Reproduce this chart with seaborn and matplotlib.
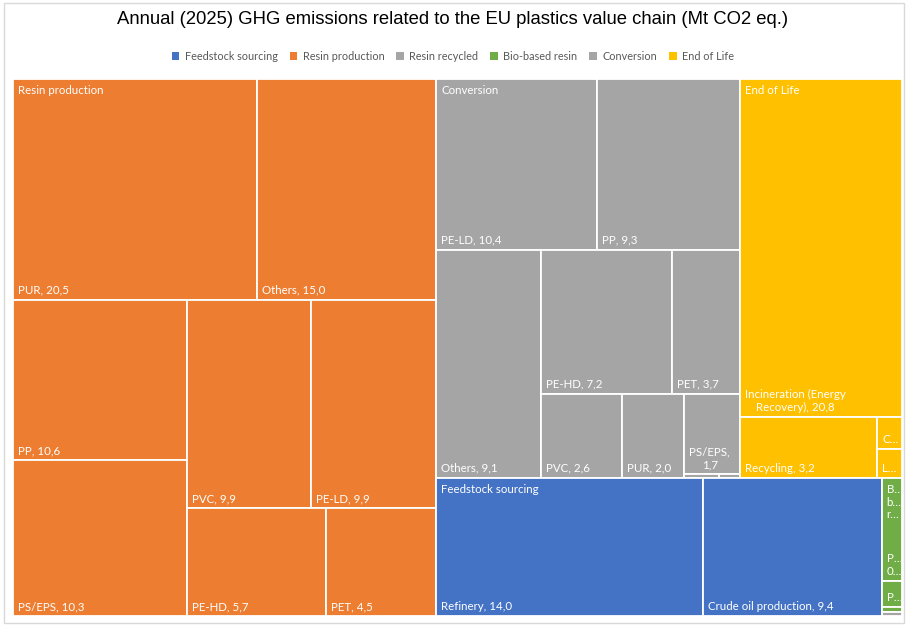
import re
import matplotlib
matplotlib.use('Agg')
import matplotlib.pyplot as plt
from matplotlib.patches import Rectangle, Patch
import seaborn as sns

# Data (Mt CO2 eq.)
resin_names = ['PUR', 'Others', 'PP', 'PS/EPS', 'PVC', 'PE-LD', 'PE-HD', 'PET']
resin_values = [20.5, 15.0, 10.6, 10.3, 9.9, 9.9, 5.7, 4.5]

conv_names = ['PE-LD', 'PP', 'Others', 'PE-HD', 'PET', 'PVC', 'PUR', 'PS/EPS', 'Bio-PE', 'PLA']
conv_values = [10.4, 9.3, 9.1, 7.2, 3.7, 2.6, 2.0, 1.7, 0.05, 0.03]

eol_names = ['Incineration (Energy Recovery)', 'Recycling', 'Chemical recycling', 'Landfill']
eol_values = [20.8, 3.2, 0.31, 0.27]

feed_names = ['Refinery', 'Crude oil production']
feed_values = [14.0, 9.4]

bio_names = ['PLA', 'PBS', 'PHA']
bio_values = [0.8, 0.2, 0.04]

recyc_names = ['Recycled resin']
recyc_values = [0.03]

legend_order = ['Feedstock sourcing', 'Resin production', 'Resin recycled',
                'Bio-based resin', 'Conversion', 'End of Life']

# Group order as drawn (largest first) and strip grouping of the layout
groups = [
    ('Resin production', resin_names, resin_values, [2, 2, 2, 1, 1]),
    ('Conversion', conv_names, conv_values, [2, 1, 2, 1, 1, 1, 1, 1]),
    ('End of Life', eol_names, eol_values, [1, 1, 1, 1]),
    ('Feedstock sourcing', feed_names, feed_values, [1, 1]),
    ('Bio-based resin', bio_names, bio_values, [1, 1, 1]),
    ('Resin recycled', recyc_names, recyc_values, [1]),
]
top_strips = [1, 2, 1, 1, 1]

colors = {'Feedstock sourcing': '#4472C4', 'Resin production': '#ED7D31',
          'Resin recycled': '#A5A5A5', 'Bio-based resin': '#70AD47',
          'Conversion': '#A5A5A5', 'End of Life': '#FFC000'}


def strip_layout(values, strips, x, y, w, h):
    # strips are laid along the shorter side of the space that is left
    rects = []
    i = 0
    for n in strips:
        chunk = values[i:i + n]
        rest = sum(values[i:])
        s = sum(chunk)
        if w >= h:
            cw = w * s / rest
            yy = y
            for v in chunk:
                ch = h * v / s
                rects.append((x, yy, cw, ch))
                yy += ch
            x += cw
            w -= cw
        else:
            rh = h * s / rest
            xx = x
            for v in chunk:
                cw2 = w * v / s
                rects.append((xx, y, cw2, rh))
                xx += cw2
            y += rh
            h -= rh
        i += n
    return rects


sns.set_theme(style='white')
plt.rcParams['font.family'] = ['Lato', 'DejaVu Sans']
LABEL_SIZE = 8.3

fig = plt.figure(figsize=(9.06, 6.25), dpi=100)
renderer = fig.canvas.get_renderer()

W, H = 889, 537
ax = fig.add_axes([13 / 906, 1 - 616 / 625, W / 906, H / 625])
ax.set_xlim(0, W)
ax.set_ylim(H, 0)
ax.axis('off')


def text_px(s):
    t = fig.text(0, 0, s, fontsize=LABEL_SIZE)
    w = t.get_window_extent(renderer=renderer).width
    t.remove()
    return w


LINE_H = LABEL_SIZE * 1.2 * 100 / 72


def fit_lines(text, avail):
    tokens = [(m.group(2), bool(m.group(1))) for m in re.finditer(r'(\s*)([^\s-]+-?)', text)]
    lines = []
    line = ''
    for tok, sp in tokens:
        cand = tok if not line else line + (' ' if sp else '') + tok
        if not line or text_px(cand) <= avail:
            line = cand
        else:
            lines.append(line)
            line = tok
    if line:
        lines.append(line)
    out = []
    for ln in lines:
        if text_px(ln) > avail:
            k = len(ln) - 1
            while k > 1 and text_px(ln[:k] + '\u2026') > avail:
                k -= 1
            ln = ln[:k] + '\u2026'
        out.append(ln)
    return out


pad, tpad, bpad = 5, 6, 4
totals = [sum(g[2]) for g in groups]
group_rects = strip_layout(totals, top_strips, 0, 0, W, H)

for (gname, names, vals, strips), (gx, gy, gw, gh) in zip(groups, group_rects):
    cells = strip_layout(vals, strips, gx, gy, gw, gh)
    for j, (name, v, (cx, cy, cw, ch)) in enumerate(zip(names, vals, cells)):
        ax.add_patch(Rectangle((cx, cy), cw, ch, facecolor=colors[gname],
                               edgecolor='white', linewidth=1.3))
        room = ch - tpad - bpad
        avail = cw - 2 * pad
        if j == 0:
            head = fit_lines(gname, avail)
            nh = min(len(head), int(room // LINE_H))
            if nh > 0:
                ax.text(cx + pad, cy + tpad, '\n'.join(head[:nh]), color='white',
                        fontsize=LABEL_SIZE, ha='left', va='top',
                        multialignment='left')
                room -= nh * LINE_H + 4
        label = name + ', ' + f'{v:.1f}'.replace('.', ',')
        lines = fit_lines(label, avail)
        nl = min(len(lines), int(room // LINE_H))
        if nl > 0:
            ax.text(cx + pad, cy + ch - bpad, '\n'.join(lines[:nl]), color='white',
                    fontsize=LABEL_SIZE, ha='left', va='bottom',
                    multialignment='center')

fig.text(0.5, 1 - 20 / 625,
         'Annual (2025) GHG emissions related to the EU plastics value chain (Mt CO2 eq.)',
         ha='center', va='center', fontsize=13.3, family='Liberation Sans', color='black')

handles = [Patch(facecolor=colors[g], edgecolor='none', label=g) for g in legend_order]
fig.legend(handles=handles, loc='center', bbox_to_anchor=(0.5, 1 - 56 / 625), ncol=6,
           frameon=False, fontsize=7.8, handlelength=0.7, handleheight=0.7,
           handletextpad=0.5, columnspacing=1.1, labelcolor='#595959')

fig.patches.append(Rectangle((4 / 906, 2 / 625), 900 / 906, 620 / 625,
                             transform=fig.transFigure, fill=False,
                             edgecolor='#d9d9d9', linewidth=1))

fig.savefig('out.png', dpi=100)
